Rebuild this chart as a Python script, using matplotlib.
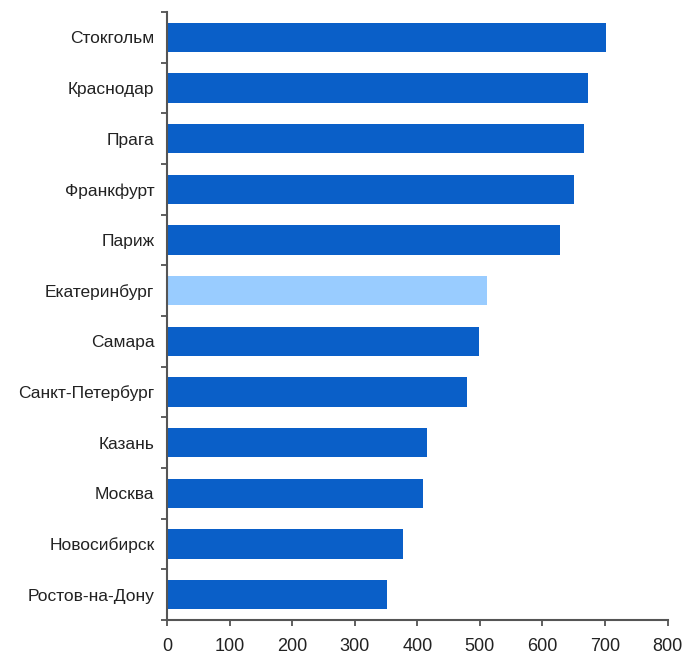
import numpy as np
import matplotlib.pyplot as plt
from matplotlib.ticker import FixedLocator

cities = ['Стокгольм', 'Краснодар', 'Прага', 'Франкфурт', 'Париж', 'Екатеринбург',
          'Самара', 'Санкт-Петербург', 'Казань', 'Москва', 'Новосибирск', 'Ростов-на-Дону']
values = [701, 673, 666, 651, 628, 512, 499, 480, 416, 409, 377, 351]
highlight = 'Екатеринбург'

plt.rcParams['font.family'] = ['Liberation Sans', 'DejaVu Sans']

fig = plt.figure(figsize=(6.94, 6.56), dpi=100)
ax = fig.add_axes([0.2406, 0.0549, 0.7214, 0.9268])

colors = ['#99CCFF' if c == highlight else '#0A5FC8' for c in cities]
y = np.arange(len(cities))
ax.barh(y, values, height=0.58, color=colors, edgecolor='none')

ax.set_ylim(len(cities) - 0.5, -0.5)
ax.set_xlim(0, 800)
ax.set_xticks(range(0, 801, 100))
ax.set_yticks(y)
ax.set_yticklabels(cities, fontsize=12.5, color='#222222')
ax.yaxis.set_minor_locator(FixedLocator(np.arange(-0.5, len(cities), 1)))
ax.tick_params(axis='y', which='major', length=0, pad=9)
ax.tick_params(axis='y', which='minor', length=4, width=1.2, color='#444444', direction='out')
ax.tick_params(axis='x', length=4, width=1.2, color='#444444', direction='out',
               labelsize=13, labelcolor='#222222', pad=9)

for s in ['top', 'right']:
    ax.spines[s].set_visible(False)
for s in ['left', 'bottom']:
    ax.spines[s].set_color('#555555')
    ax.spines[s].set_linewidth(1.5)

fig.savefig('out.png', dpi=100)
